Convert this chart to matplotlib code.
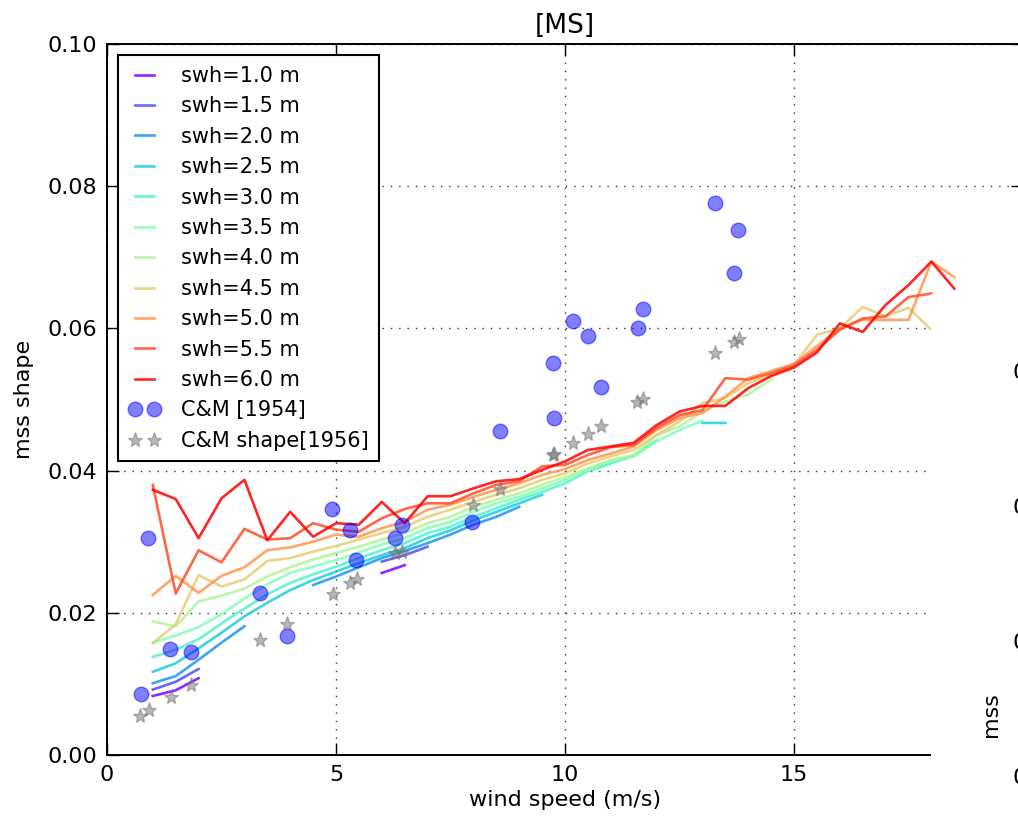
import numpy as np
import matplotlib
matplotlib.use("Agg")
import matplotlib.pyplot as plt
from matplotlib.patches import Rectangle

plt.rcParams["font.family"] = ["DejaVu Sans"]

nan = np.nan

# wind speed bins (m/s)
wind = [1.0, 1.5, 2.0, 2.5, 3.0, 3.5, 4.0, 4.5, 5.0, 5.5, 6.0, 6.5,
        7.0, 7.5, 8.0, 8.5, 9.0, 9.5, 10.0, 10.5, 11.0, 11.5, 12.0, 12.5,
        13.0, 13.5, 14.0, 14.5, 15.0, 15.5, 16.0, 16.5, 17.0, 17.5, 18.0, 18.5]

swh_values = [1.0, 1.5, 2.0, 2.5, 3.0, 3.5, 4.0, 4.5, 5.0, 5.5, 6.0]

# mean square slope per significant wave height class
mss_swh_10 = [0.0083, 0.0091, 0.0108] + [nan] * 7 + [0.0256, 0.0267] + [nan] * 24
mss_swh_15 = [0.0092, 0.0103, 0.0121] + [nan] * 7 + [0.0272, 0.0281, 0.0293] + [nan] * 23
mss_swh_20 = [0.0101, 0.0111, 0.0134, 0.0158, 0.0181, nan, nan, 0.0239, 0.0251,
              0.0264, 0.0277, 0.0287, 0.0298, 0.0310, 0.0324, 0.0335, 0.0349] + [nan] * 19
mss_swh_25 = [0.0117, 0.0129, 0.0150, 0.0172, 0.0195, 0.0214, 0.0232, 0.0246, 0.0258,
              0.0270, 0.0281, 0.0291, 0.0305, 0.0316, 0.0330, 0.0342, 0.0354, 0.0366] \
             + [nan] * 6 + [0.0467, 0.0467] + [nan] * 10
mss_swh_30 = [0.0138, 0.0148, 0.0163, 0.0185, 0.0206, 0.0226, 0.0242, 0.0254, 0.0265,
              0.0277, 0.0288, 0.0298, 0.0312, 0.0321, 0.0335, 0.0347, 0.0359, 0.0370,
              0.0382, 0.0399, 0.0410, 0.0421, 0.0443] + [nan] * 13
mss_swh_35 = [0.0158, 0.0168, 0.0180, 0.0198, 0.0220, 0.0240, 0.0256, 0.0265, 0.0274,
              0.0285, 0.0296, 0.0305, 0.0319, 0.0328, 0.0342, 0.0354, 0.0363, 0.0375,
              0.0387, 0.0401, 0.0413, 0.0420, 0.0441, 0.0457, 0.0470] + [nan] * 11
mss_swh_40 = [0.0188, 0.0181, 0.0216, 0.0224, 0.0234, 0.0251, 0.0264, 0.0275, 0.0284,
              0.0293, 0.0303, 0.0312, 0.0326, 0.0335, 0.0349, 0.0359, 0.0368, 0.0380,
              0.0391, 0.0403, 0.0415, 0.0422, 0.0450, 0.0462, 0.0483, 0.0497, 0.0507,
              0.0528] + [nan] * 8
mss_swh_45 = [0.0157, 0.0184, 0.0253, 0.0237, 0.0247, 0.0273, 0.0277, 0.0286, 0.0294,
              0.0303, 0.0312, 0.0321, 0.0335, 0.0345, 0.0356, 0.0366, 0.0375, 0.0387,
              0.0396, 0.0410, 0.0420, 0.0429, 0.0450, 0.0469, 0.0495, 0.0502, 0.0523,
              0.0535, 0.0548, 0.0591, 0.0600, 0.0630, 0.0617, 0.0629, 0.0598, nan]
mss_swh_50 = [0.0225, 0.0252, 0.0228, 0.0252, 0.0264, 0.0288, 0.0292, 0.0300, 0.0310,
              0.0307, 0.0319, 0.0328, 0.0345, 0.0352, 0.0363, 0.0373, 0.0382, 0.0394,
              0.0402, 0.0415, 0.0424, 0.0434, 0.0457, 0.0474, 0.0481, 0.0504, 0.0530,
              0.0540, 0.0550, 0.0575, 0.0600, 0.0612, 0.0612, 0.0612, 0.0694, 0.0672]
mss_swh_55 = [0.0380, 0.0227, 0.0288, 0.0271, 0.0318, 0.0303, 0.0305, 0.0326, 0.0317,
              0.0314, 0.0333, 0.0346, 0.0354, 0.0354, 0.0368, 0.0380, 0.0385, 0.0406,
              0.0408, 0.0422, 0.0433, 0.0436, 0.0460, 0.0478, 0.0485, 0.0530, 0.0528,
              0.0537, 0.0548, 0.0570, 0.0598, 0.0614, 0.0617, 0.0644, 0.0649, nan]
mss_swh_60 = [0.0373, 0.0360, 0.0305, 0.0361, 0.0387, 0.0302, 0.0342, 0.0307, 0.0326,
              0.0324, 0.0356, 0.0326, 0.0364, 0.0364, 0.0375, 0.0385, 0.0388, 0.0401,
              0.0413, 0.0429, 0.0434, 0.0439, 0.0464, 0.0483, 0.0491, 0.0491, 0.0516,
              0.0533, 0.0545, 0.0566, 0.0607, 0.0595, 0.0633, 0.0661, 0.0694, 0.0656]

series = [mss_swh_10, mss_swh_15, mss_swh_20, mss_swh_25, mss_swh_30, mss_swh_35,
          mss_swh_40, mss_swh_45, mss_swh_50, mss_swh_55, mss_swh_60]

# Cox & Munk observations
cm54_wind = [0.75, 0.90, 1.38, 1.83, 3.35, 3.93, 4.92, 5.31, 5.44, 6.28, 6.45, 7.98,
             8.58, 9.73, 9.76, 10.18, 10.51, 10.79, 11.60, 11.70, 13.27, 13.78, 13.69]
cm54_mss = [0.0086, 0.0305, 0.0149, 0.0145, 0.0228, 0.0168, 0.0346, 0.0316, 0.0274,
            0.0305, 0.0323, 0.0328, 0.0455, 0.0552, 0.0474, 0.0610, 0.0589, 0.0517,
            0.0600, 0.0627, 0.0776, 0.0738, 0.0678]

cm56_wind = [0.71, 0.91, 1.39, 1.84, 3.35, 3.93, 4.93, 5.31, 5.45, 6.29, 6.44, 7.99,
             8.57, 9.74, 9.76, 10.17, 10.51, 10.79, 11.58, 11.70, 13.28, 13.68, 13.79]
cm56_mss = [0.0055, 0.0063, 0.0082, 0.0099, 0.0162, 0.0184, 0.0226, 0.0242, 0.0247,
            0.0284, 0.0286, 0.0351, 0.0374, 0.0422, 0.0423, 0.0439, 0.0452, 0.0463,
            0.0496, 0.0501, 0.0565, 0.0581, 0.0585]

y_ticks = [0.00, 0.02, 0.04, 0.06, 0.08, 0.10]
x_ticks = [0, 5, 10, 15]

W, H = 1018, 818
fig = plt.figure(figsize=(W / 100, H / 100), dpi=100)
fig.patch.set_facecolor("white")
ax = fig.add_axes([107 / W, 63 / H, 916 / W, 711 / H])

colors = plt.cm.rainbow(np.linspace(0, 1, len(swh_values)))
for h, s, c in zip(swh_values, series, colors):
    ax.plot(wind, s, color=c, lw=1.9, alpha=0.85, label=f"swh={h:.1f} m")

ax.plot(cm54_wind, cm54_mss, "o", color="b", mec="b", alpha=0.5, ms=10.5,
        label="C&M [1954]")
ax.plot(cm56_wind, cm56_mss, "*", color="0.45", mec="0.45", alpha=0.5, ms=11,
        label="C&M shape[1956]")

ax.set_xlim(0, 20)
ax.set_ylim(0, 0.10)
ax.set_xticks(x_ticks)
ax.set_yticks(y_ticks)
ax.set_yticklabels([f"{v:.2f}" for v in y_ticks])
ax.tick_params(direction="in", top=True, right=True, length=8.5, width=1,
               labelsize=16, pad=7)
for sp in ax.spines.values():
    sp.set_linewidth(1.4)
ax.grid(True, color="k", linestyle=(0, (1, 5)), lw=1, alpha=0.8)

ax.set_xlabel("wind speed (m/s)", fontsize=16, labelpad=4)
ax.set_ylabel("mss shape", fontsize=16, labelpad=10)
ax.set_title("[MS]", fontsize=19, pad=8)

# neighbouring panel overlaps the right end of this one
ax.add_patch(Rectangle((18, -0.004), 3, 0.0688, facecolor="white", lw=0,
                       zorder=10, clip_on=False))

leg = ax.legend(loc="upper left", fontsize=15, numpoints=2, fancybox=False,
                framealpha=1, edgecolor="k", handlelength=1.5,
                handletextpad=1.0, labelspacing=0.5, borderpad=0.5,
                borderaxespad=0.55)
leg.get_frame().set_linewidth(1.5)
leg.set_zorder(20)

# tick labels and axis title of the neighbouring panel
for lbl, ypix in zip(["0.03", "0.02", "0.01", "0.00"], [373, 508, 643, 778]):
    fig.text(1012 / W, 1 - ypix / H, lbl, fontsize=16, ha="left", va="center")
fig.text(991 / W, 1 - 715 / H, "mss", fontsize=16, rotation=90,
         ha="center", va="center")

fig.savefig("out.png", dpi=100, facecolor="white")
